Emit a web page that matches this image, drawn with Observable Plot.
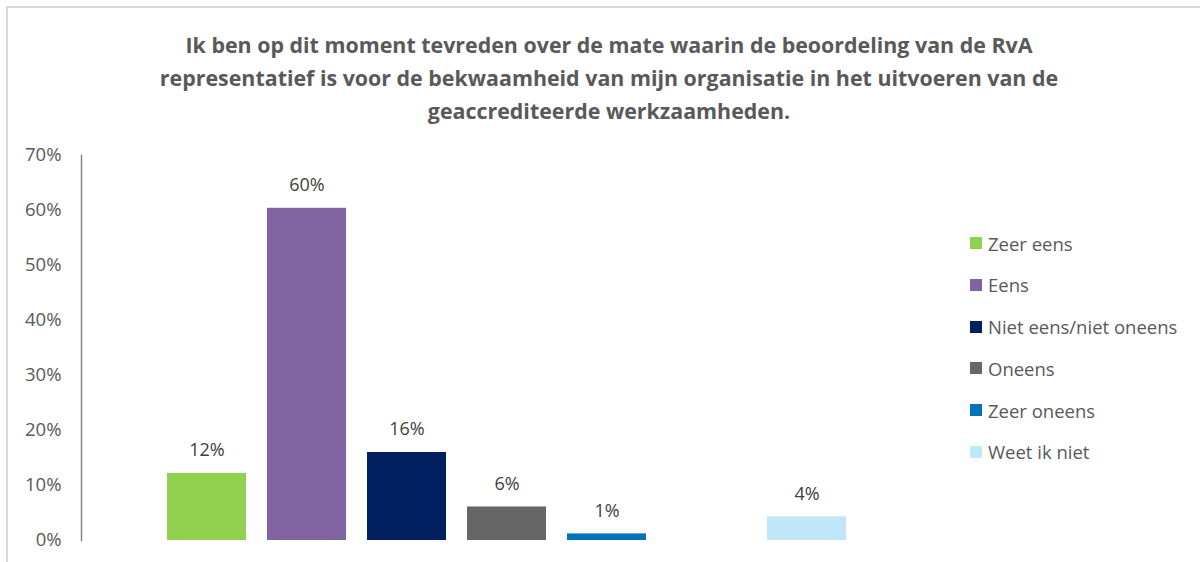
<!DOCTYPE html>
<html>
<head>
<meta charset="utf-8">
<script src="https://cdn.jsdelivr.net/npm/d3@7"></script>
<script src="https://cdn.jsdelivr.net/npm/@observablehq/plot@0.6"></script>
<style>
  html, body { margin: 0; padding: 0; background: #fff; overflow: hidden; }
  body { width: 1200px; height: 562px; position: relative; font-family: "Open Sans", sans-serif; }
  #frame { position: absolute; left: 6px; top: 6px; width: 1400px; height: 800px;
           border-left: 2px solid #d9d9d9; border-top: 2px solid #d9d9d9; }
  #title { position: absolute; left: 9px; top: 0; width: 1200px; height: 140px; box-sizing: border-box;
           padding-top: 28px; text-align: center; font-weight: bold; font-size: 21.4px; line-height: 33px; color: #595959; }
  #chart { position: absolute; left: 0; top: 140px; }
  #legend { position: absolute; left: 970px; top: 231px; }
  .lg-row { display: flex; align-items: center; height: 24px; margin-bottom: 17.8px; font-size: 18.5px; color: #595959; }
  .lg-sw { width: 12px; height: 12px; margin-right: 6px; flex: none; }
</style>
</head>
<body>
<div id="frame"></div>
<div id="title">Ik ben op dit moment tevreden over de mate waarin de beoordeling van de RvA<br>representatief is voor de bekwaamheid van mijn organisatie in het uitvoeren van de<br>geaccrediteerde werkzaamheden.</div>
<div id="chart"></div>
<div id="legend"></div>
<script>
const categories = ["Zeer eens", "Eens", "Niet eens/niet oneens", "Oneens", "Zeer oneens", "Weet ik niet"];
const values = [0.122, 0.604, 0.160, 0.061, 0.012, 0.043];
const valueLabels = ["12%", "60%", "16%", "6%", "1%", "4%"];
const colors = ["#92D050", "#8064A2", "#002060", "#666666", "#0072B8", "#C0E6FA"];
// x slots: one empty position before "Weet ik niet"
const slots = ["Zeer eens", "Eens", "Niet eens/niet oneens", "Oneens", "Zeer oneens", "(leeg)", "Weet ik niet"];
const yTicks = [0, 0.1, 0.2, 0.3, 0.4, 0.5, 0.6, 0.7];

const data = categories.map((c, i) => ({cat: c, value: values[i], label: valueLabels[i]}));

const chart = Plot.plot({
  width: 960,
  height: 422,
  marginTop: 15,
  marginBottom: 22,
  marginLeft: 81,
  marginRight: 104,
  style: {fontFamily: "Open Sans, sans-serif", fontSize: "18px", color: "#595959", background: "transparent"},
  x: {domain: slots, paddingInner: 0.21, paddingOuter: 0.105, insetLeft: 75, axis: null},
  y: {domain: [0, 0.7]},
  color: {domain: categories, range: colors},
  marks: [
    Plot.barY(data, {x: "cat", y: "value", fill: "cat"}),
    Plot.text(data, {x: "cat", y: "value", text: "label", dy: -23, fill: "#404040", fontSize: 18}),
    Plot.axisY({ticks: yTicks, tickFormat: d3.format(".0%"), tickSize: 0, tickPadding: 20, label: null, fill: "#595959", fontSize: 18.5}),
    Plot.frame({anchor: "left", stroke: "#868686", strokeWidth: 1.5})
  ]
});
document.getElementById("chart").appendChild(chart);

const legend = d3.select("#legend");
categories.forEach((c, i) => {
  const row = legend.append("div").attr("class", "lg-row");
  row.append("div").attr("class", "lg-sw").style("background", colors[i]);
  row.append("span").text(c);
});
</script>
</body>
</html>
